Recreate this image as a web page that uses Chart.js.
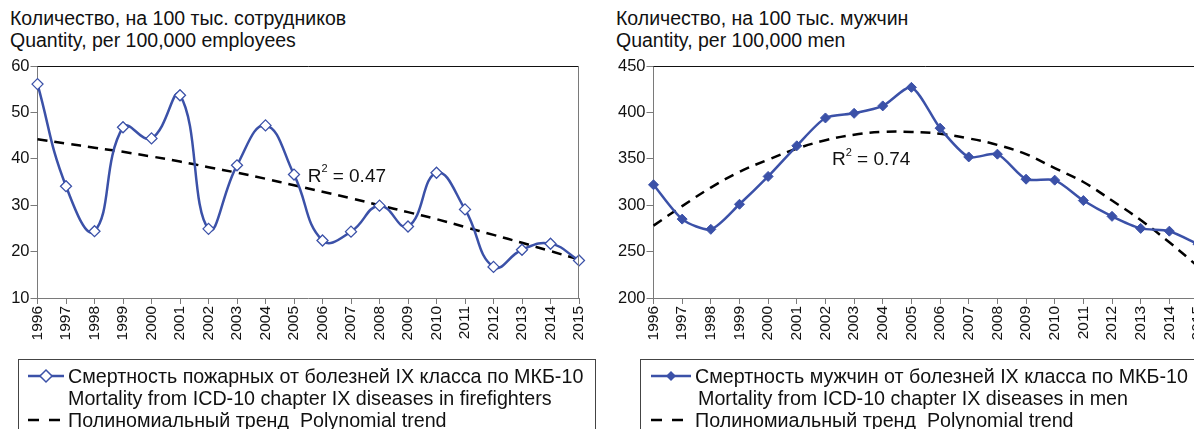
<!DOCTYPE html>
<html>
<head>
<meta charset="utf-8">
<script src="https://cdn.jsdelivr.net/npm/chart.js@4/dist/chart.umd.min.js"></script>
<style>
body { margin: 0; width: 1194px; height: 429px; overflow: hidden; background: #fff; position: relative;
       font-family: "Liberation Sans", Arial, sans-serif; color: #111; }
.title { position: absolute; top: 7px; font-size: 19.5px; line-height: 22px; white-space: nowrap; }
.wrap { position: absolute; top: 40px; height: 320px; }
.legend { position: absolute; top: 359px; height: 90px; border: 1px solid #444; font-size: 19.7px;
          line-height: 22px; padding-top: 5px; box-sizing: border-box; }
.row { display: flex; align-items: center; white-space: nowrap; height: 22px; }
.row svg { flex: none; }
</style>
</head>
<body>
<div class="title" style="left:10px">Количество, на 100 тыс. сотрудников<br>Quantity, per 100,000 employees</div>
<div class="title" style="left:616px">Количество, на 100 тыс. мужчин<br>Quantity, per 100,000 men</div>

<div class="wrap" style="left:0;width:600px"><canvas id="chartFire" width="600" height="320"></canvas></div>
<div class="wrap" style="left:600px;width:630px"><canvas id="chartMen" width="630" height="320"></canvas></div>

<div class="legend" style="left:18px;width:578px">
  <div class="row"><svg width="48" height="22" style="margin-left:1px"><line x1="8" y1="11" x2="44" y2="11" stroke="#3b51a8" stroke-width="2.5"/><path d="M26 5 L32 11 L26 17 L20 11 Z" fill="#fff" stroke="#3b51a8" stroke-width="1.5"/></svg><span>Смертность пожарных от болезней IX класса по МКБ-10</span></div>
  <div class="row" style="padding-left:49px">Mortality from ICD-10 chapter IX diseases in firefighters</div>
  <div class="row"><svg width="48" height="22" style="margin-left:1px"><line x1="8" y1="11" x2="40" y2="11" stroke="#000" stroke-width="2.5" stroke-dasharray="11 10"/></svg><span>Полиномиальный тренд&nbsp; Polynomial trend</span></div>
</div>
<div class="legend" style="left:640px;width:570px">
  <div class="row"><svg width="54" height="22"><line x1="10" y1="11" x2="50" y2="11" stroke="#3b51a8" stroke-width="2.5"/><path d="M30 6 L35 11 L30 16 L25 11 Z" fill="#3b51a8"/></svg><span>Смертность мужчин от болезней IX класса по МКБ-10</span></div>
  <div class="row" style="padding-left:57px">Mortality from ICD-10 chapter IX diseases in men</div>
  <div class="row"><svg width="54" height="22"><line x1="10" y1="11" x2="43" y2="11" stroke="#000" stroke-width="2.5" stroke-dasharray="11 10"/></svg><span>Полиномиальный тренд&nbsp; Polynomial trend</span></div>
</div>

<script>
const years = ["1996", "1997", "1998", "1999", "2000", "2001", "2002", "2003", "2004", "2005",
               "2006", "2007", "2008", "2009", "2010", "2011", "2012", "2013", "2014", "2015"];

// firefighters, per 100,000 employees
const firefighters = [56.1, 34.1, 24.4, 46.8, 44.4, 53.7, 24.9, 38.6, 47.2, 36.6,
                      22.4, 24.3, 29.9, 25.4, 37.0, 29.1, 16.7, 20.4, 21.7, 18.1];
const firefightersTrend = [44.2, 43.3, 42.4, 41.5, 40.5, 39.4, 38.2, 37.0, 35.7, 34.3,
                           32.9, 31.5, 30.0, 28.5, 27.0, 25.3, 23.6, 21.9, 20.1, 18.3];

// men, per 100,000 men
const men = [322, 285, 274, 301, 331, 364, 394, 399, 407, 427,
             383, 352, 355, 328, 327, 305, 288, 275, 272, 258];
const menTrend = [278, 299, 319, 336, 349, 361, 370, 376, 379, 379,
                  377, 372, 365, 355, 340, 325, 305, 284, 260, 234];

const fireTicks = [10, 20, 30, 40, 50, 60];
const menTicks = [200, 250, 300, 350, 400, 450];

const BLUE = "#3b51a8";
const AXIS = "#7a7a7a";
const FONT = '"Liberation Sans", Arial, sans-serif';

const frame = {
    id: "frame",
    afterDraw(chart) {
        const { ctx, chartArea: a } = chart;
        ctx.save();
        ctx.lineWidth = 1;
        ctx.strokeStyle = "#111";
        ctx.beginPath();
        ctx.moveTo(a.left, a.top + 0.5);
        ctx.lineTo(a.right, a.top + 0.5);
        ctx.stroke();
        ctx.strokeStyle = AXIS;
        ctx.beginPath();
        ctx.moveTo(a.right - 0.5, a.top);
        ctx.lineTo(a.right - 0.5, a.bottom);
        ctx.stroke();
        ctx.restore();
    }
};

const r2label = {
    id: "r2label",
    afterDatasetsDraw(chart, args, opts) {
        const { ctx, scales } = chart;
        const x = scales.x.getPixelForValue(opts.at[0]);
        const y = scales.y.getPixelForValue(opts.at[1]);
        ctx.save();
        ctx.fillStyle = "#111";
        ctx.textBaseline = "middle";
        ctx.font = "19px " + FONT;
        ctx.fillText("R", x, y);
        const w = ctx.measureText("R").width;
        ctx.font = "11px " + FONT;
        ctx.fillText("2", x + w, y - 7);
        ctx.font = "19px " + FONT;
        ctx.fillText(" = " + opts.text, x + w + 6, y);
        ctx.restore();
    }
};

function makeChart(id, values, trend, ticks, cfg) {
    const ctx = document.getElementById(id).getContext("2d");
    return new Chart(ctx, {
        type: "line",
        data: {
            labels: years,
            datasets: [
                {
                    data: values,
                    borderColor: BLUE,
                    borderWidth: 2.5,
                    tension: cfg.tension,
                    pointStyle: "rectRot",
                    pointRadius: cfg.pointRadius,
                    pointBackgroundColor: cfg.hollow ? "#fff" : BLUE,
                    pointBorderColor: BLUE,
                    pointBorderWidth: cfg.hollow ? 1.3 : 1,
                    order: 1
                },
                {
                    data: trend,
                    borderColor: "#000",
                    borderWidth: 2.5,
                    borderDash: [10, 7],
                    tension: 0.4,
                    pointRadius: 0,
                    order: 2
                }
            ]
        },
        options: {
            responsive: false,
            animation: false,
            events: [],
            layout: { padding: { left: 0, top: 26, right: cfg.padRight, bottom: 0 } },
            plugins: {
                legend: { display: false },
                tooltip: { enabled: false },
                r2label: { at: cfg.r2at, text: cfg.r2 }
            },
            scales: {
                x: {
                    offset: false,
                    grid: { drawOnChartArea: false, color: AXIS, tickLength: 6 },
                    border: { color: AXIS, width: 1 },
                    ticks: {
                        autoSkip: false, minRotation: 90, maxRotation: 90, padding: 2,
                        color: "#111", font: { size: 15.5, family: FONT }
                    },
                    afterFit(scale) { scale.height = 62; }
                },
                y: {
                    min: ticks[0],
                    max: ticks[ticks.length - 1],
                    grid: { drawOnChartArea: false, color: AXIS, tickLength: 7 },
                    border: { color: AXIS, width: 1 },
                    ticks: {
                        stepSize: ticks[1] - ticks[0], padding: 1,
                        color: "#111", font: { size: 16.5, family: FONT }
                    },
                    afterFit(scale) { scale.width = cfg.yWidth; }
                }
            }
        },
        plugins: [frame, r2label]
    });
}

makeChart("chartFire", firefighters, firefightersTrend, fireTicks, {
    tension: 0.45, pointRadius: 5.5, hollow: true, padRight: 21, yWidth: 37.5,
    r2at: [9.48, 36.2], r2: "0.47"
});
makeChart("chartMen", men, menTrend, menTicks, {
    tension: 0.25, pointRadius: 5, hollow: false, padRight: 32, yWidth: 53.5,
    r2at: [6.23, 349], r2: "0.74"
});
</script>
</body>
</html>
